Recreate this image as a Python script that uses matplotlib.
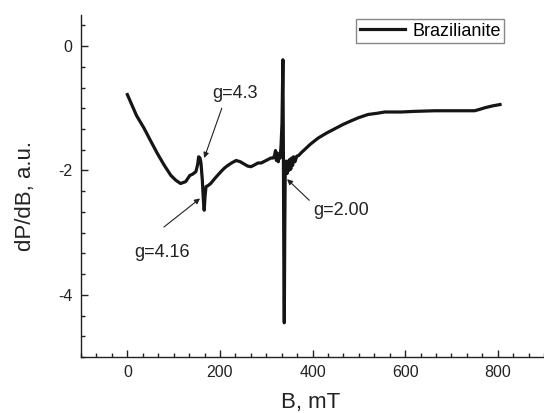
import matplotlib
matplotlib.use("Agg")
import matplotlib.pyplot as plt
from matplotlib.ticker import MultipleLocator, AutoMinorLocator

plt.rcParams['font.family'] = ['Liberation Sans', 'DejaVu Sans']
plt.rcParams['axes.unicode_minus'] = False

# EPR spectrum (B in mT, dP/dB in a.u.)
field = [0, 10, 20, 36, 50, 65, 80, 94, 105, 115, 126, 135, 141, 148, 152, 154,
         157, 159, 162, 164, 166, 168, 170, 175, 180, 190, 202, 210, 217, 225, 235,
         244, 253, 260, 267, 275, 282, 289, 297, 305, 310, 315, 318, 320, 322, 324,
         326, 328, 330, 332, 334, 336, 337, 338, 339, 340, 341, 343, 345, 347, 349,
         351, 353, 355, 357, 359, 362, 366, 370, 375, 385, 395, 412, 430, 448, 466,
         484, 500, 520, 540, 556, 575, 592, 620, 664, 700, 737, 750, 760, 773, 790, 805]
signal = [-0.78, -0.95, -1.12, -1.32, -1.52, -1.73, -1.92, -2.08, -2.16, -2.21, -2.18, -2.08,
          -2.06, -2.02, -1.90, -1.78, -1.80, -1.88, -2.16, -2.45, -2.64, -2.40, -2.26, -2.24,
          -2.21, -2.12, -2.02, -1.96, -1.92, -1.88, -1.84, -1.86, -1.90, -1.93, -1.94, -1.91,
          -1.88, -1.88, -1.85, -1.82, -1.80, -1.80, -1.76, -1.68, -1.84, -1.72, -1.86,
          -1.74, -1.80, -1.60, -1.25, -0.22, -1.60, -3.40, -4.45, -3.00, -2.00, -1.85,
          -2.05, -1.85, -2.00, -1.82, -1.98, -1.80, -1.92, -1.78, -1.86, -1.77, -1.76,
          -1.72, -1.65, -1.58, -1.48, -1.40, -1.33, -1.26, -1.20, -1.15, -1.10, -1.08,
          -1.06, -1.06, -1.06, -1.05, -1.04, -1.04, -1.04, -1.04, -1.02, -0.99, -0.96, -0.94]

# annotations: label, text position, arrow tail, arrow head
notes = [
    ("g=4.3", (232, -0.76), (204, -1.00), (166, -1.80)),
    ("g=4.16", (74, -3.32), (79, -2.91), (157, -2.45)),
    ("g=2.00", (462, -2.64), (393, -2.48), (345, -2.14)),
]

fig = plt.figure(figsize=(5.44, 4.13), dpi=100)
ax = fig.add_axes([0.149, 0.1356, 0.851, 0.8281])

ax.plot(field, signal, color='#151515', lw=2.3, label='Brazilianite')

for label, txt, tail, head in notes:
    ax.text(txt[0], txt[1], label, fontsize=13, color='#222222', ha='center', va='center')
    ax.annotate('', xy=head, xytext=tail,
                arrowprops=dict(arrowstyle='-|>', color='#222222', lw=0.8,
                                mutation_scale=8, shrinkA=0, shrinkB=0))

ax.set_xlim(-100, 900)
ax.set_ylim(-5, 0.5)
ax.xaxis.set_major_locator(MultipleLocator(200))
ax.xaxis.set_minor_locator(AutoMinorLocator(6))
ax.yaxis.set_major_locator(MultipleLocator(2))
ax.yaxis.set_minor_locator(AutoMinorLocator(6))

ax.spines['top'].set_visible(False)
ax.spines['right'].set_visible(False)
for s in ('left', 'bottom'):
    ax.spines[s].set_linewidth(1.0)
    ax.spines[s].set_color('#222222')

ax.tick_params(which='both', direction='in', colors='#222222', width=1.0)
ax.tick_params(which='major', length=5, labelsize=11.5, pad=6)
ax.tick_params(which='minor', length=3)

ax.set_xlabel('B, mT', fontsize=16, color='#222222')
ax.set_ylabel('dP/dB, a.u.', fontsize=16, color='#222222')
ax.xaxis.set_label_coords(0.495, -0.103)
ax.yaxis.set_label_coords(-0.097, 0.47)

leg = ax.legend(loc='upper right', bbox_to_anchor=(0.914, 0.988), borderaxespad=0,
                fontsize=13, fancybox=False, framealpha=1, edgecolor='#888888',
                handlelength=2.5, handletextpad=0.4, borderpad=0.2)
leg.get_frame().set_linewidth(1.0)

fig.savefig('out.png', dpi=100)
